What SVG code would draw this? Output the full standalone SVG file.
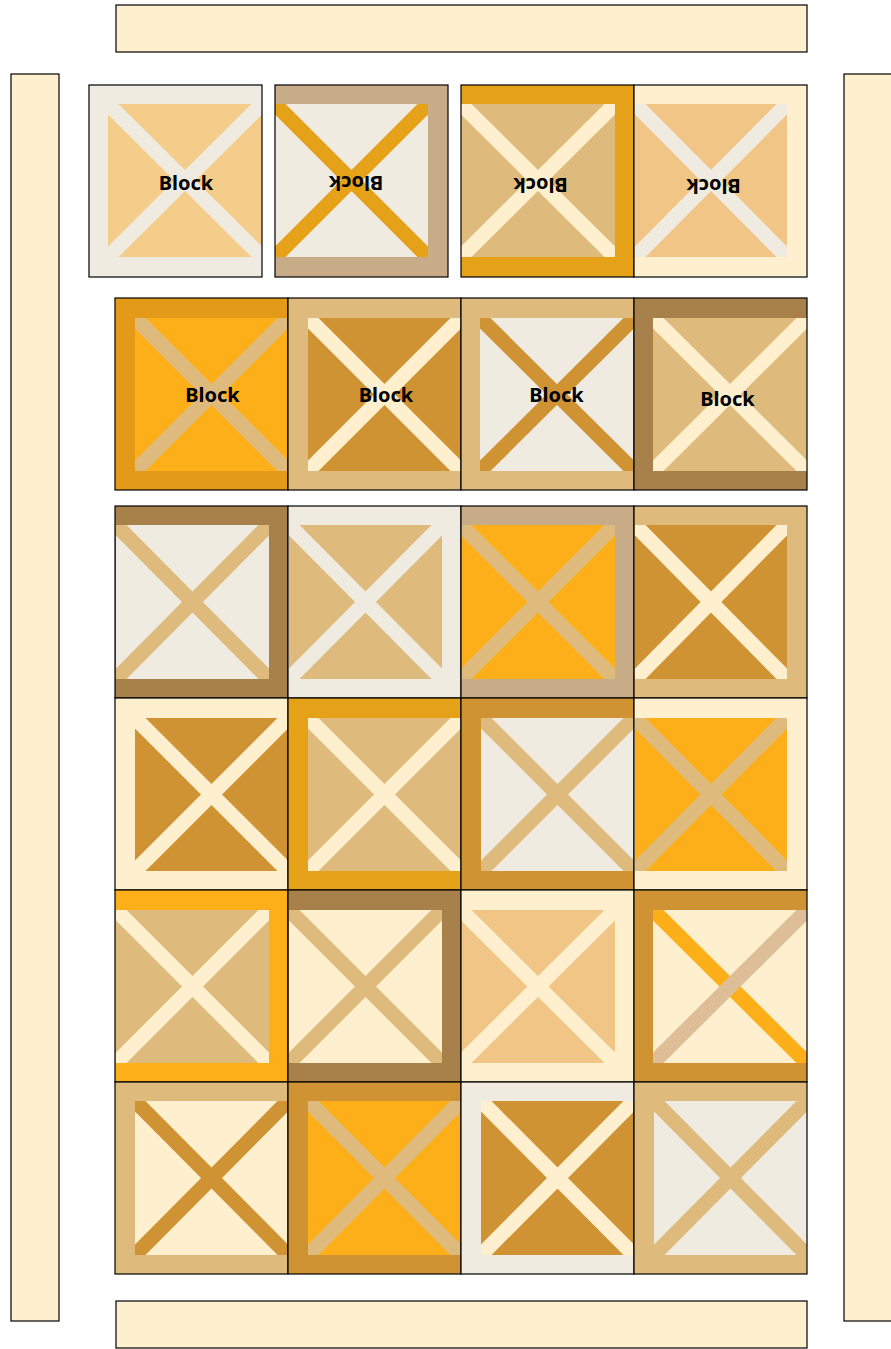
<svg xmlns="http://www.w3.org/2000/svg" width="891" height="1349" viewBox="0 0 891 1349">
<style>
.cream{fill:#FEEFCF}.light{fill:#EFEBE0}.tan{fill:#F3CD89}.taupe{fill:#C8AC87}.orange{fill:#E5A117}.orange2{fill:#E39A18}
.sand{fill:#DEBB7D}.peach{fill:#F0C586}.yellow{fill:#FCAF19}.gold{fill:#CF9334}.brown{fill:#A88049}.dust{fill:#DDBE96}
.edge{fill:none;stroke:#000;stroke-width:1.2}
.bar{fill:#FEEFCF;stroke:#000;stroke-width:1.2}
.lbl{font-family:"Noto Sans","Open Sans",sans-serif;font-weight:bold;font-size:20px;fill:#000;text-anchor:middle}
</style>
<rect width="891" height="1349" fill="#FFFFFF"/>
<g id="borders">
<rect id="border-top" class="bar" x="116" y="5" width="691" height="47"/>
<rect id="border-bottom" class="bar" x="116" y="1301" width="691" height="47"/>
<rect id="border-left" class="bar" x="11" y="74" width="48" height="1247"/>
<rect id="border-right" class="bar" x="844" y="74" width="50" height="1247"/>
</g>
<g id="connectors"/>

<g id="r1b1">
<rect class="light" x="89" y="85" width="173" height="192"/>
<rect class="tan" x="108" y="104" width="154" height="153"/>
<polygon class="light" points="108,104 118.5,104 262,246.5 262,257 251.5,257 108,114.5"/>
<polygon class="light" points="108,257 108,246.5 251.5,104 262,104 262,114.5 118.5,257"/>
<rect class="edge" x="89" y="85" width="173" height="192"/>
<text class="lbl" x="186" y="190">Block</text>
</g>
<g id="r1b2">
<rect class="taupe" x="275" y="85" width="173" height="192"/>
<rect class="light" x="275" y="104" width="153" height="153"/>
<polygon class="orange" points="275,104 285.5,104 428,246.5 428,257 417.5,257 275,114.5"/>
<polygon class="orange" points="275,257 275,246.5 417.5,104 428,104 428,114.5 285.5,257"/>
<rect class="edge" x="275" y="85" width="173" height="192"/>
<text class="lbl" x="356" y="189.5" transform="rotate(180 356 182.5)">Block</text>
</g>
<g id="r1b3">
<rect class="orange" x="461" y="85" width="173" height="192"/>
<rect class="sand" x="461" y="104" width="154" height="153"/>
<polygon class="cream" points="461,104 471.5,104 615,246.5 615,257 604.5,257 461,114.5"/>
<polygon class="cream" points="461,257 461,246.5 604.5,104 615,104 615,114.5 471.5,257"/>
<rect class="edge" x="461" y="85" width="173" height="192"/>
<text class="lbl" x="540.5" y="192" transform="rotate(180 540.5 185)">Block</text>
</g>
<g id="r1b4">
<rect class="cream" x="634" y="85" width="173" height="192"/>
<rect class="peach" x="635" y="104" width="152" height="153"/>
<polygon class="light" points="635,104 645.5,104 787,246.5 787,257 776.5,257 635,114.5"/>
<polygon class="light" points="635,257 635,246.5 776.5,104 787,104 787,114.5 645.5,257"/>
<rect class="edge" x="634" y="85" width="173" height="192"/>
<text class="lbl" x="713.5" y="193" transform="rotate(180 713.5 186)">Block</text>
</g>

<g id="r2b1">
<rect class="orange2" x="115" y="298" width="173" height="192"/>
<rect class="yellow" x="135" y="318" width="153" height="153"/>
<polygon class="sand" points="135,318 145.5,318 288,460.5 288,471 277.5,471 135,328.5"/>
<polygon class="sand" points="135,471 135,460.5 277.5,318 288,318 288,328.5 145.5,471"/>
<rect class="edge" x="115" y="298" width="173" height="192"/>
<text class="lbl" x="212.5" y="402">Block</text>
</g>
<g id="r2b2">
<rect class="sand" x="288" y="298" width="173" height="192"/>
<rect class="gold" x="308" y="318" width="153" height="153"/>
<polygon class="cream" points="308,318 318.5,318 461,460.5 461,471 450.5,471 308,328.5"/>
<polygon class="cream" points="308,471 308,460.5 450.5,318 461,318 461,328.5 318.5,471"/>
<rect class="edge" x="288" y="298" width="173" height="192"/>
<text class="lbl" x="386" y="402">Block</text>
</g>
<g id="r2b3">
<rect class="sand" x="461" y="298" width="173" height="192"/>
<rect class="light" x="480" y="318" width="154" height="153"/>
<polygon class="gold" points="480,318 490.5,318 634,460.5 634,471 623.5,471 480,328.5"/>
<polygon class="gold" points="480,471 480,460.5 623.5,318 634,318 634,328.5 490.5,471"/>
<rect class="edge" x="461" y="298" width="173" height="192"/>
<text class="lbl" x="556.5" y="402">Block</text>
</g>
<g id="r2b4">
<rect class="brown" x="634" y="298" width="173" height="192"/>
<rect class="sand" x="653" y="318" width="154" height="153"/>
<polygon class="cream" points="653,318 663.5,318 807,460.5 807,471 796.5,471 653,328.5"/>
<polygon class="cream" points="653,471 653,460.5 796.5,318 807,318 807,328.5 663.5,471"/>
<rect class="edge" x="634" y="298" width="173" height="192"/>
<text class="lbl" x="727.5" y="405.5">Block</text>
</g>

<g id="r3b1">
<rect class="brown" x="115" y="506" width="173" height="192"/>
<rect class="light" x="116" y="525" width="153" height="154"/>
<polygon class="sand" points="116,525 126.5,525 269,668.5 269,679 258.5,679 116,535.5"/>
<polygon class="sand" points="116,679 116,668.5 258.5,525 269,525 269,535.5 126.5,679"/>
<rect class="edge" x="115" y="506" width="173" height="192"/>
</g>
<g id="r3b2">
<rect class="light" x="288" y="506" width="173" height="192"/>
<rect class="sand" x="289" y="525" width="153" height="154"/>
<polygon class="light" points="289,525 299.5,525 442,668.5 442,679 431.5,679 289,535.5"/>
<polygon class="light" points="289,679 289,668.5 431.5,525 442,525 442,535.5 299.5,679"/>
<rect class="edge" x="288" y="506" width="173" height="192"/>
</g>
<g id="r3b3">
<rect class="taupe" x="461" y="506" width="173" height="192"/>
<rect class="yellow" x="461" y="525" width="154" height="154"/>
<polygon class="sand" points="461,525 471.5,525 615,668.5 615,679 604.5,679 461,535.5"/>
<polygon class="sand" points="461,679 461,668.5 604.5,525 615,525 615,535.5 471.5,679"/>
<rect class="edge" x="461" y="506" width="173" height="192"/>
</g>
<g id="r3b4">
<rect class="sand" x="634" y="506" width="173" height="192"/>
<rect class="gold" x="635" y="525" width="152" height="154"/>
<polygon class="cream" points="635,525 645.5,525 787,668.5 787,679 776.5,679 635,535.5"/>
<polygon class="cream" points="635,679 635,668.5 776.5,525 787,525 787,535.5 645.5,679"/>
<rect class="edge" x="634" y="506" width="173" height="192"/>
</g>

<g id="r4b1">
<rect class="cream" x="115" y="698" width="173" height="192"/>
<rect class="gold" x="135" y="718" width="153" height="153"/>
<polygon class="cream" points="135,718 145.5,718 288,860.5 288,871 277.5,871 135,728.5"/>
<polygon class="cream" points="135,871 135,860.5 277.5,718 288,718 288,728.5 145.5,871"/>
<rect class="edge" x="115" y="698" width="173" height="192"/>
</g>
<g id="r4b2">
<rect class="orange" x="288" y="698" width="173" height="192"/>
<rect class="sand" x="308" y="718" width="153" height="153"/>
<polygon class="cream" points="308,718 318.5,718 461,860.5 461,871 450.5,871 308,728.5"/>
<polygon class="cream" points="308,871 308,860.5 450.5,718 461,718 461,728.5 318.5,871"/>
<rect class="edge" x="288" y="698" width="173" height="192"/>
</g>
<g id="r4b3">
<rect class="gold" x="461" y="698" width="173" height="192"/>
<rect class="light" x="481" y="718" width="153" height="153"/>
<polygon class="sand" points="481,718 491.5,718 634,860.5 634,871 623.5,871 481,728.5"/>
<polygon class="sand" points="481,871 481,860.5 623.5,718 634,718 634,728.5 491.5,871"/>
<rect class="edge" x="461" y="698" width="173" height="192"/>
</g>
<g id="r4b4">
<rect class="cream" x="634" y="698" width="173" height="192"/>
<rect class="yellow" x="635" y="718" width="152" height="153"/>
<polygon class="sand" points="635,718 645.5,718 787,860.5 787,871 776.5,871 635,728.5"/>
<polygon class="sand" points="635,871 635,860.5 776.5,718 787,718 787,728.5 645.5,871"/>
<rect class="edge" x="634" y="698" width="173" height="192"/>
</g>

<g id="r5b1">
<rect class="yellow" x="115" y="890" width="173" height="192"/>
<rect class="sand" x="116" y="910" width="153" height="153"/>
<polygon class="cream" points="116,910 126.5,910 269,1052.5 269,1063 258.5,1063 116,920.5"/>
<polygon class="cream" points="116,1063 116,1052.5 258.5,910 269,910 269,920.5 126.5,1063"/>
<rect class="edge" x="115" y="890" width="173" height="192"/>
</g>
<g id="r5b2">
<rect class="brown" x="288" y="890" width="173" height="192"/>
<rect class="cream" x="289" y="910" width="153" height="153"/>
<polygon class="sand" points="289,910 299.5,910 442,1052.5 442,1063 431.5,1063 289,920.5"/>
<polygon class="sand" points="289,1063 289,1052.5 431.5,910 442,910 442,920.5 299.5,1063"/>
<rect class="edge" x="288" y="890" width="173" height="192"/>
</g>
<g id="r5b3">
<rect class="cream" x="461" y="890" width="173" height="192"/>
<rect class="peach" x="461" y="910" width="154" height="153"/>
<polygon class="cream" points="461,910 471.5,910 615,1052.5 615,1063 604.5,1063 461,920.5"/>
<polygon class="cream" points="461,1063 461,1052.5 604.5,910 615,910 615,920.5 471.5,1063"/>
<rect class="edge" x="461" y="890" width="173" height="192"/>
</g>
<g id="r5b4">
<rect class="gold" x="634" y="890" width="173" height="192"/>
<rect class="cream" x="653" y="910" width="154" height="153"/>
<polygon class="yellow" points="653,910 663.5,910 807,1052.5 807,1063 796.5,1063 653,920.5"/>
<polygon class="dust" points="653,1063 653,1052.5 796.5,910 807,910 807,920.5 663.5,1063"/>
<rect class="edge" x="634" y="890" width="173" height="192"/>
</g>

<g id="r6b1">
<rect class="sand" x="115" y="1082" width="173" height="192"/>
<rect class="cream" x="135" y="1101" width="153" height="154"/>
<polygon class="gold" points="135,1101 145.5,1101 288,1244.5 288,1255 277.5,1255 135,1111.5"/>
<polygon class="gold" points="135,1255 135,1244.5 277.5,1101 288,1101 288,1111.5 145.5,1255"/>
<rect class="edge" x="115" y="1082" width="173" height="192"/>
</g>
<g id="r6b2">
<rect class="gold" x="288" y="1082" width="173" height="192"/>
<rect class="yellow" x="308" y="1101" width="153" height="154"/>
<polygon class="sand" points="308,1101 318.5,1101 461,1244.5 461,1255 450.5,1255 308,1111.5"/>
<polygon class="sand" points="308,1255 308,1244.5 450.5,1101 461,1101 461,1111.5 318.5,1255"/>
<rect class="edge" x="288" y="1082" width="173" height="192"/>
</g>
<g id="r6b3">
<rect class="light" x="461" y="1082" width="173" height="192"/>
<rect class="gold" x="481" y="1101" width="153" height="154"/>
<polygon class="cream" points="481,1101 491.5,1101 634,1244.5 634,1255 623.5,1255 481,1111.5"/>
<polygon class="cream" points="481,1255 481,1244.5 623.5,1101 634,1101 634,1111.5 491.5,1255"/>
<rect class="edge" x="461" y="1082" width="173" height="192"/>
</g>
<g id="r6b4">
<rect class="sand" x="634" y="1082" width="173" height="192"/>
<rect class="light" x="654" y="1101" width="153" height="154"/>
<polygon class="sand" points="654,1101 664.5,1101 807,1244.5 807,1255 796.5,1255 654,1111.5"/>
<polygon class="sand" points="654,1255 654,1244.5 796.5,1101 807,1101 807,1111.5 664.5,1255"/>
<rect class="edge" x="634" y="1082" width="173" height="192"/>
</g>
</svg>
